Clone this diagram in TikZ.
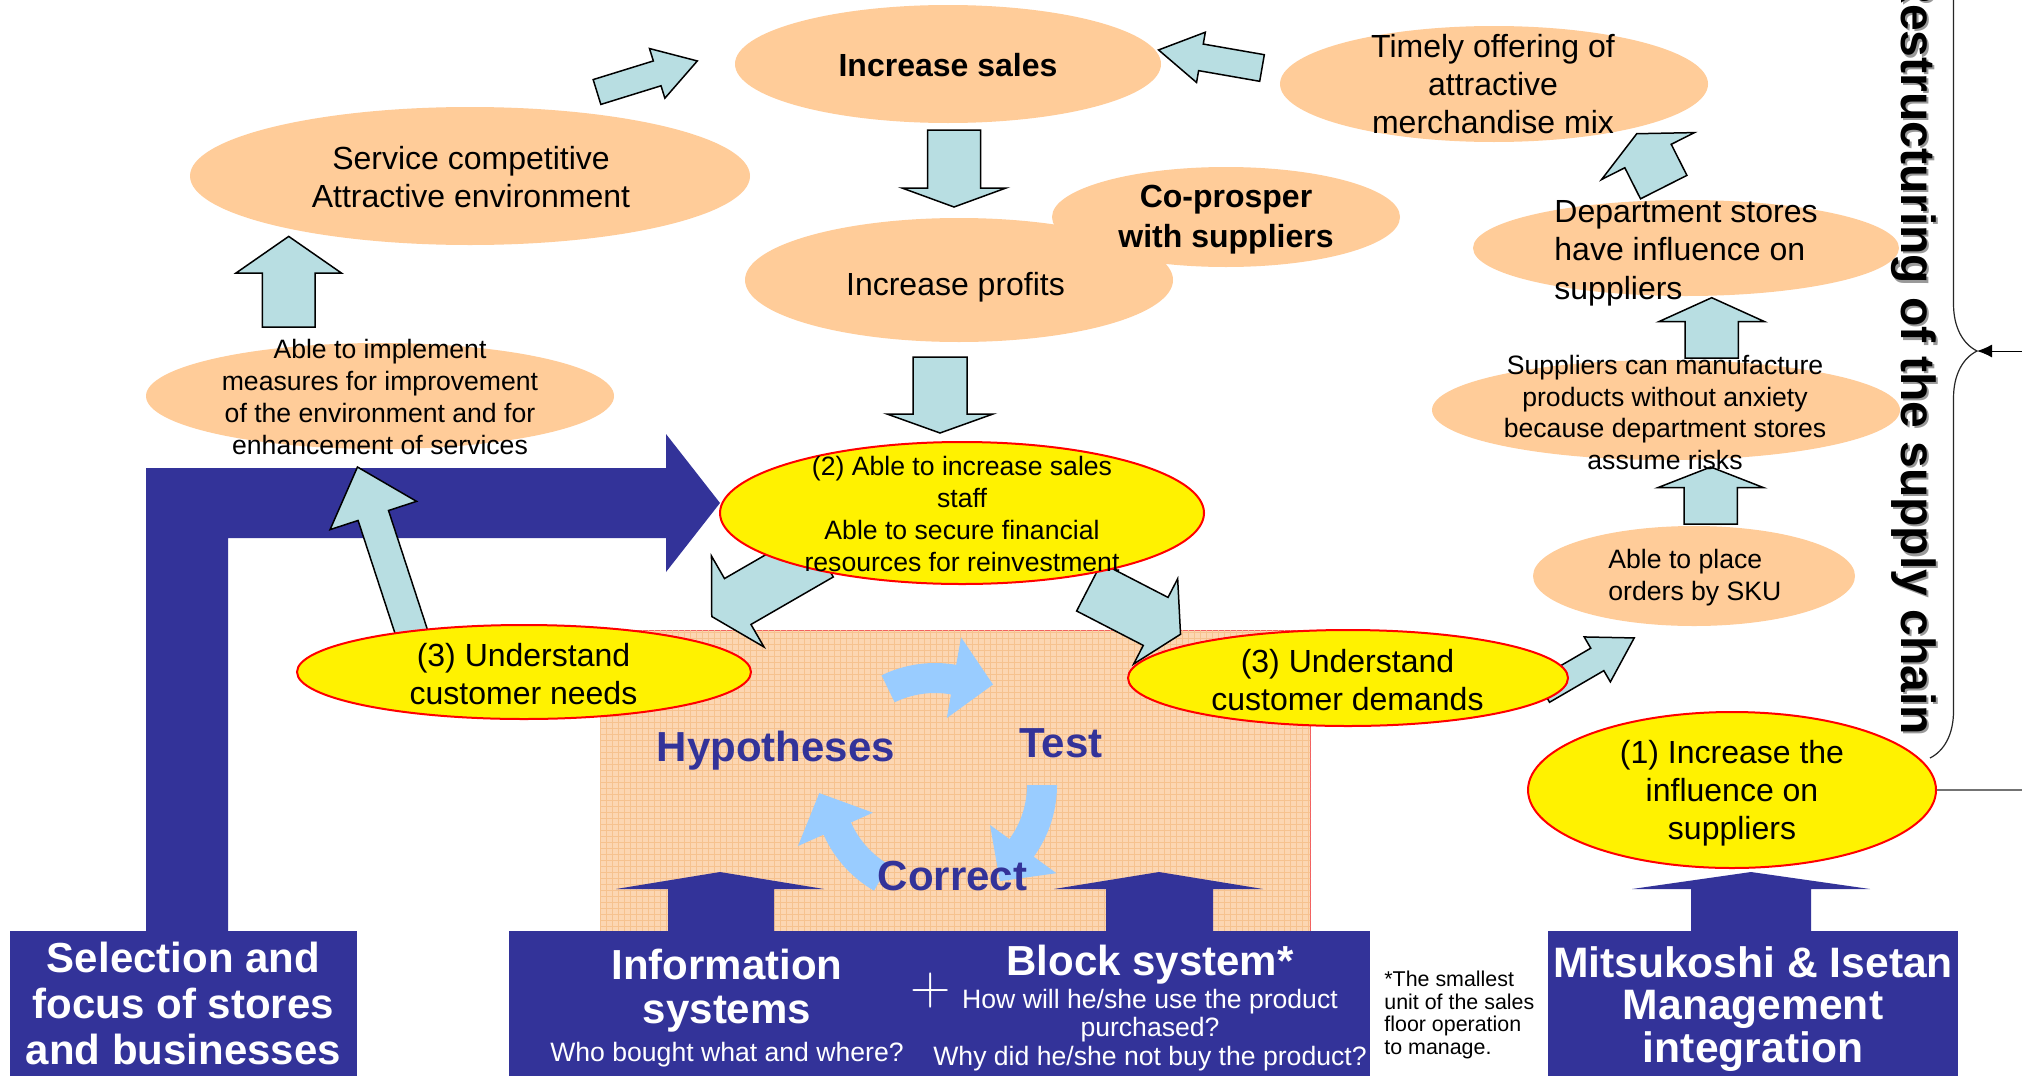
\documentclass[tikz,border=0pt]{standalone}
\usepackage{fontspec}
\setsansfont{Liberation Sans}
\renewcommand{\familydefault}{\sfdefault}
\usetikzlibrary{shapes.geometric,arrows.meta,decorations.pathreplacing,patterns}

\definecolor{peach}{HTML}{FFCC99}
\definecolor{lblue}{HTML}{B8DEE2}
\definecolor{navy}{HTML}{333399}
\definecolor{cycblue}{HTML}{99CCFF}
\definecolor{labfill}{HTML}{FCD6B2}
\definecolor{labgrid}{HTML}{F6C28F}
\definecolor{labedge}{HTML}{F26060}

\tikzset{
  peachell/.style={ellipse, fill=peach, inner sep=0pt},
  yellell/.style={ellipse, fill=yellow, draw=red, line width=1pt, inner sep=0pt},
  lbarrow/.style={fill=lblue, draw=black, line width=0.75pt, line join=miter},
  navybox/.style={rectangle, fill=navy, inner sep=0pt},
  navyarrow/.style={fill=navy},
  cyc/.style={fill=cycblue},
  t16/.style={font=\fontsize{16}{19}\selectfont, align=center, inner sep=0pt},
  t16b/.style={font=\fontsize{16}{20}\selectfont\bfseries, align=center, inner sep=0pt},
  t13/.style={font=\fontsize{13.3}{15.9}\selectfont, align=center, inner sep=0pt},
  bigw/.style={font=\fontsize{21}{23}\selectfont\bfseries, text=white, align=center, inner sep=0pt},
  smallw/.style={font=\fontsize{13.3}{14.2}\selectfont, text=white, align=center, inner sep=0pt},
  cyctext/.style={font=\fontsize{21}{21}\selectfont\bfseries, text=navy, inner sep=0pt},
  supplytext/.style={font=\fontsize{24}{24}\selectfont\bfseries, rotate=-90, anchor=base west, inner sep=0pt},
}

% block arrow: tail x, tail y, direction (deg, y pointing down), length,
% half shaft width, half head width, head length
\newcommand\blockarrow[7]{%
  \draw[lbarrow, shift={(#1,#2)}, rotate={-(#3)}]
    (0,-#5) -- ({#4-#7},-#5) -- ({#4-#7},-#6) -- (#4,0)
    -- ({#4-#7},#6) -- ({#4-#7},#5) -- (0,#5) -- cycle;}

% curved arrow of the hypothesis cycle, starting at angle #1
\newcommand\cycarrow[1]{%
  \pgfmathsetmacro\cb{#1+36}\pgfmathsetmacro\ct{#1+56}%
  \fill[cyc] plot[domain=#1:\cb, samples=24] ({935+122*cos(\x)},{785+122*sin(\x)})
    -- ({935+150*cos(\cb)},{785+150*sin(\cb)})
    -- ({935+116*cos(\ct)},{785+116*sin(\ct)})
    -- ({935+68*cos(\cb)},{785+68*sin(\cb)})
    -- ({935+92*cos(\cb)},{785+92*sin(\cb)})
    -- plot[domain=\cb:#1, samples=24] ({935+92*cos(\x)},{785+92*sin(\x)})
    -- cycle;}

\begin{document}
\begin{tikzpicture}[x=0.5pt, y=-0.5pt]
\fill[white] (0,0) rectangle (2022,1076);
\useasboundingbox (0,0) rectangle (2022,1076);

% hypothesis / test / correct area
\node[rectangle, minimum width=355pt, minimum height=150.5pt, inner sep=0pt,
      fill=labfill, draw=labedge, line width=0.5pt,
      postaction={pattern=grid, pattern color=labgrid}] (lab) at (955,780.5) {};
\cycarrow{-116}
\cycarrow{0}
\cycarrow{120}

% peach goal ellipses
\node[peachell, minimum width=213pt, minimum height=59pt] (sales) at (948,64) {};
\node[peachell, minimum width=280pt, minimum height=69pt] (service) at (470,176) {};
\node[peachell, minimum width=174pt, minimum height=50pt] (coprosper) at (1226,217) {};
\node[peachell, minimum width=214pt, minimum height=62pt] (profits) at (959,280) {};
\node[peachell, minimum width=214pt, minimum height=58pt] (timely) at (1494,84) {};
\node[peachell, minimum width=213pt, minimum height=48pt] (dept) at (1686,248) {};
\node[peachell, minimum width=234pt, minimum height=50pt] (manuf) at (1666,410) {};
\node[peachell, minimum width=161pt, minimum height=50pt] (sku) at (1694,576) {};
\node[peachell, minimum width=234pt, minimum height=53pt] (implement) at (380,396) {};

% bent arrow from store selection to the sales staff
\fill[navyarrow] (146,931) -- (146,468) -- (666,468) -- (666,434) -- (720,503)
  -- (666,572) -- (666,538) -- (228,538) -- (228,931) -- cycle;

% light blue block arrows
\blockarrow{597}{92}{-17.2}{105}{13}{26}{42}
\blockarrow{1262}{68}{189.9}{105}{13.5}{25.5}{43}
\blockarrow{954}{130}{90}{77}{26.5}{52}{19}
\blockarrow{940}{357}{90}{76}{27}{53}{19}
\blockarrow{820}{554}{150}{125}{26.5}{52.5}{30}
\blockarrow{1089}{587}{27.3}{103}{27}{48}{28}
\blockarrow{414}{640}{-108.1}{182}{16}{45.5}{51}
\blockarrow{288.7}{327}{-90}{90.6}{26.3}{52.8}{36.7}
\blockarrow{1543}{691}{-30.2}{105.5}{13}{26}{42.7}
\blockarrow{1710.7}{524}{-90}{57}{26.7}{53}{20.7}
\blockarrow{1711.7}{358}{-90}{60.3}{26.7}{53}{24}
\blockarrow{1663.7}{187.1}{-116.8}{59.8}{26}{52}{25}

% yellow key ellipses
\node[yellell, minimum width=242pt, minimum height=71pt] (staff) at (962,513) {};
\node[yellell, minimum width=227pt, minimum height=47pt] (needs) at (524,672) {};
\node[yellell, minimum width=220pt, minimum height=48pt] (demands) at (1348,678) {};
\node[yellell, minimum width=204pt, minimum height=78pt] (influence) at (1732,790) {};

% navy up arrows from the foundations
\fill[navyarrow] (668,931) -- (668,889) -- (616,889) -- (720,872) -- (824,889)
  -- (774,889) -- (774,931) -- cycle;
\fill[navyarrow] (1106,931) -- (1106,889) -- (1054,889) -- (1159,872) -- (1263,889)
  -- (1213,889) -- (1213,931) -- cycle;
\fill[navyarrow] (1691,931) -- (1691,889) -- (1632,889) -- (1751,872) -- (1870,889)
  -- (1811,889) -- (1811,931) -- cycle;

% foundation boxes
\node[navybox, minimum width=173.5pt, minimum height=72.5pt] (sel) at (183.5,1003.5) {};
\node[navybox, minimum width=430.5pt, minimum height=72.5pt] (sys) at (939.5,1003.5) {};
\node[navybox, minimum width=205pt, minimum height=72.5pt] (mit) at (1753,1003.5) {};

% texts
\node[t16b] (t-sales) at (948,65) {Increase sales};
\node[t16] (t-service) at (471,177) {Service competitive\\Attractive environment};
\node[t16b] (t-coprosper) at (1226,219.5) {Co-prosper\\with suppliers};
\node[t16] (t-profits) at (955.5,287.5) {Increase profits};
\node[t16] (t-timely) at (1493,84) {Timely offering of\\attractive\\merchandise mix};
\node[t16, align=left, anchor=west, font=\fontsize{16}{19.3}\selectfont] (t-dept) at (1554,253) {Department stores\\have influence on\\suppliers};
\node[t13] (t-manuf) at (1665,412.5) {Suppliers can manufacture\\products without anxiety\\because department stores\\assume risks};
\node[t13, align=left, anchor=west] (t-sku) at (1608,578) {Able to place\\orders by SKU};
\node[t13] (t-implement) at (380,397) {Able to implement\\measures for improvement\\of the environment and for\\enhancement of services};
\node[t13] (t-staff) at (962,514) {(2) Able to increase sales\\staff\\Able to secure financial\\resources for reinvestment};
\node[t16] (t-needs) at (523.5,674.5) {(3) Understand\\customer needs};
\node[t16] (t-demands) at (1347.5,680.5) {(3) Understand\\customer demands};
\node[t16] (t-influence) at (1732,793.5) {(1) Increase the\\influence on\\suppliers};

\node[cyctext, anchor=base] (hyp) at (776,761) {Hypotheses};
\node[cyctext, anchor=base] (test) at (1061,757) {Test};
\node[cyctext, anchor=base] (correct) at (952.5,890) {Correct};

\node[bigw] (t-sel) at (183.5,1003) {Selection and\\focus of stores\\and businesses};
\node[bigw, font=\fontsize{21}{22}\selectfont\bfseries] (t-info) at (727,991) {Information\\systems};
\node[smallw] (t-who) at (727,1055) {Who bought what and where?};
\node[font=\rmfamily\fontsize{28}{28}\selectfont, text=white, inner sep=0pt] (t-plus) at (931,991) {+};
\node[bigw] (t-block) at (1150,965) {Block system*};
\node[smallw] (t-blockq) at (1150,1030) {How will he/she use the product\\purchased?\\Why did he/she not buy the product?};
\node[font=\fontsize{10.7}{11.4}\selectfont, align=left, anchor=west, inner sep=0pt] (t-note) at (1384,1015) {*The smallest\\unit of the sales\\floor operation\\to manage.};
\node[bigw, font=\fontsize{21.3}{21.3}\selectfont\bfseries] (t-mit) at (1753,1009) {Mitsukoshi \& Isetan\\Management\\integration};

% supply chain restructuring label with brace
\node[supplytext, text=black!40] (t-supply-shadow) at (1903.5,-28.5) {Restructuring of the supply chain};
\node[supplytext, text=black] (t-supply) at (1901,-31) {Restructuring of the supply chain};
\coordinate (braceTop) at (1930,-56);
\coordinate (braceBot) at (1930,758);
\coordinate (braceTip) at (1977,351);
\coordinate (feedIn) at (2022,351);
\coordinate (edgeR) at (2022,790);
\draw[black!85, line width=0.6pt, decorate, decoration={brace, amplitude=23.5pt}] (braceTop) -- (braceBot);
\draw[line width=0.5pt, -{Latex[length=7.5pt, width=6.5pt]}] (feedIn) -- (braceTip);
\draw[black!55, line width=0.6pt] (influence.east) -- (edgeR);
\end{tikzpicture}
\end{document}
